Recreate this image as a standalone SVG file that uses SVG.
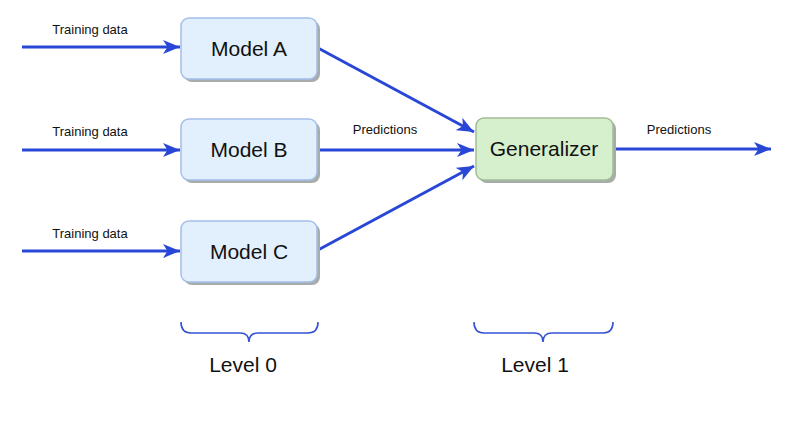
<svg xmlns="http://www.w3.org/2000/svg" width="794" height="443" viewBox="0 0 794 443">
<defs>
<marker id="arr" markerUnits="userSpaceOnUse" markerWidth="18" markerHeight="14" refX="17" refY="7" orient="auto">
<path d="M0,0 L17,7 L0,14 L4.5,7 Z" fill="#2947d6"/>
</marker>
<style>
.box{fill:#e2effc;stroke:#a3bfea;stroke-width:1.5}
.gen{fill:#d6f0cd;stroke:#a2bc97;stroke-width:1.5}
.sh{fill:#a8aca8}
.lbl{font-family:"Liberation Sans",Arial,sans-serif;font-size:21px;fill:#111111;text-anchor:middle}
.sm{font-family:"Liberation Sans",Arial,sans-serif;font-size:13px;fill:#111111;text-anchor:middle}
.edge{stroke:#2947d6;stroke-width:3;fill:none;marker-end:url(#arr)}
.brace{stroke:#3552d4;stroke-width:1.6;fill:none}
</style>
</defs>
<rect width="794" height="443" fill="#ffffff"/>
<g id="connectors">
<line class="edge" x1="22" y1="47" x2="180" y2="47"/>
<line class="edge" x1="22" y1="150" x2="180" y2="150"/>
<line class="edge" x1="22" y1="251" x2="180" y2="251"/>
<line class="edge" x1="318" y1="48" x2="474" y2="132"/>
<line class="edge" x1="318" y1="150" x2="474" y2="150"/>
<line class="edge" x1="318" y1="250" x2="474" y2="166"/>
<line class="edge" x1="613" y1="149" x2="771" y2="149"/>
<text class="sm" x="90" y="34">Training data</text>
<text class="sm" x="90" y="136">Training data</text>
<text class="sm" x="90" y="238">Training data</text>
<text class="sm" x="385" y="134">Predictions</text>
<text class="sm" x="679" y="134">Predictions</text>
</g>
<g id="modelA">
<rect class="sh" x="184" y="21" width="136" height="61" rx="8"/>
<rect class="box" x="181" y="18" width="136" height="61" rx="8"/>
<text class="lbl" x="249" y="56">Model A</text>
</g>
<g id="modelB">
<rect class="sh" x="184" y="122" width="136" height="61" rx="8"/>
<rect class="box" x="181" y="119" width="136" height="61" rx="8"/>
<text class="lbl" x="249" y="157">Model B</text>
</g>
<g id="modelC">
<rect class="sh" x="184" y="224" width="136" height="61" rx="8"/>
<rect class="box" x="181" y="221" width="136" height="61" rx="8"/>
<text class="lbl" x="249" y="259">Model C</text>
</g>
<g id="generalizer">
<rect class="sh" x="479" y="121" width="137" height="62" rx="8"/>
<rect class="gen" x="476" y="118" width="137" height="62" rx="8"/>
<text class="lbl" x="544" y="156">Generalizer</text>
</g>
<g id="level0">
<path class="brace" d="M181,322 Q181,333 191,333 L240,333 Q249,333 249,342 Q249,333 258,333 L308,333 Q318,333 318,322"/>
<text class="lbl" x="243" y="372">Level 0</text>
</g>
<g id="level1">
<path class="brace" d="M474,322 Q474,333 484,333 L534,333 Q543,333 543,342 Q543,333 552,333 L603,333 Q613,333 613,322"/>
<text class="lbl" x="535" y="372">Level 1</text>
</g>
</svg>
